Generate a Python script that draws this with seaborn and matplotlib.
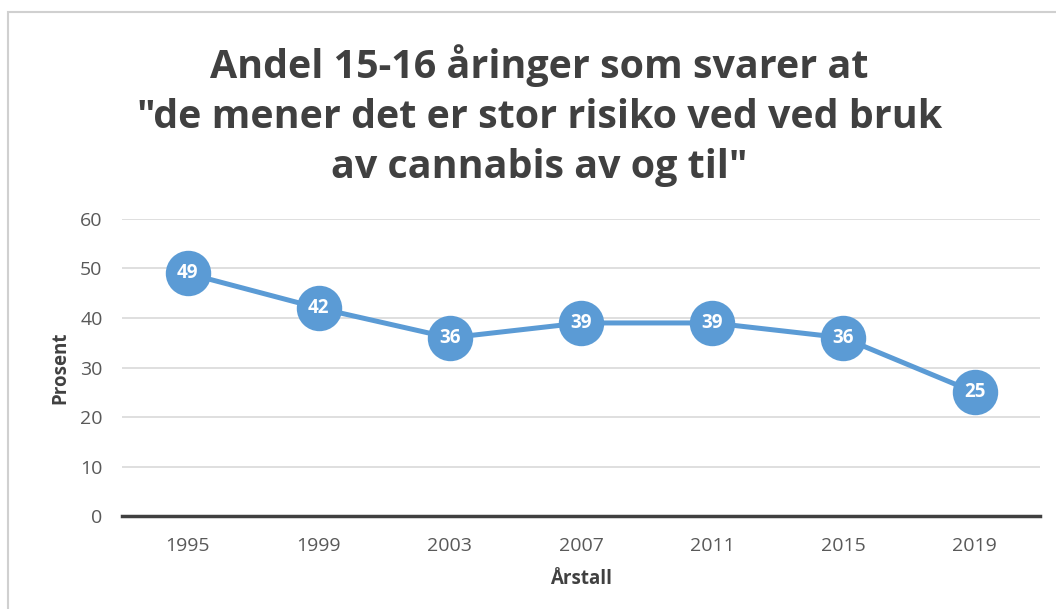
import matplotlib
matplotlib.use("Agg")
import matplotlib.pyplot as plt
import seaborn as sns
import pandas as pd
from matplotlib.patches import Rectangle

years = ["1995", "1999", "2003", "2007", "2011", "2015", "2019"]
values = [49, 42, 36, 39, 39, 36, 25]
title = 'Andel 15-16 åringer som svarer at\n"de mener det er stor risiko ved ved bruk\nav cannabis av og til"'

sns.set_theme(style="white")
plt.rcParams['font.family'] = ['Open Sans', 'DejaVu Sans']

df = pd.DataFrame({"Årstall": years, "Prosent": values})

fig = plt.figure(figsize=(10.56, 6.09), dpi=100)
ax = fig.add_axes([0.1155, 0.1527, 0.8695, 0.4877])

blue = "#5B9BD5"
sns.pointplot(data=df, x="Årstall", y="Prosent", ax=ax, color=blue,
              markers="o", markersize=30, linewidth=3.6, zorder=3)

for i, v in enumerate(values):
    ax.text(i, v, str(v), ha="center", va="center", color="white",
            fontsize=13.5, fontweight="bold", zorder=5)

ax.set_ylim(0, 60)
ax.set_xlim(-0.5, len(years) - 0.5)
ax.set_yticks(range(0, 61, 10))
ax.yaxis.grid(True, color="#D9D9D9", linewidth=1.2)
ax.set_axisbelow(True)
for s in ["top", "right", "left"]:
    ax.spines[s].set_visible(False)
ax.spines["bottom"].set_color("#404040")
ax.spines["bottom"].set_linewidth(2.5)
ax.tick_params(axis="both", colors="#595959", labelsize=14, length=0)
ax.tick_params(axis="x", pad=15)
ax.tick_params(axis="y", pad=14)
ax.set_xlabel("Årstall", fontsize=13.5, fontweight="bold", color="#404040", labelpad=10)
ax.set_ylabel("Prosent", fontsize=13.5, fontweight="bold", color="#404040", labelpad=7)

fig.text(0.511, 0.81, title, ha="center", va="center", fontsize=28.4,
         fontweight="bold", color="#404040", linespacing=1.36)

fig.patches.append(Rectangle((8/1056, -0.1), 1.2, 1 - 12/609 + 0.1,
                             transform=fig.transFigure, fill=False,
                             edgecolor="#D0D0D0", linewidth=1.5, figure=fig))

fig.savefig("out.png", dpi=100, facecolor="white")
